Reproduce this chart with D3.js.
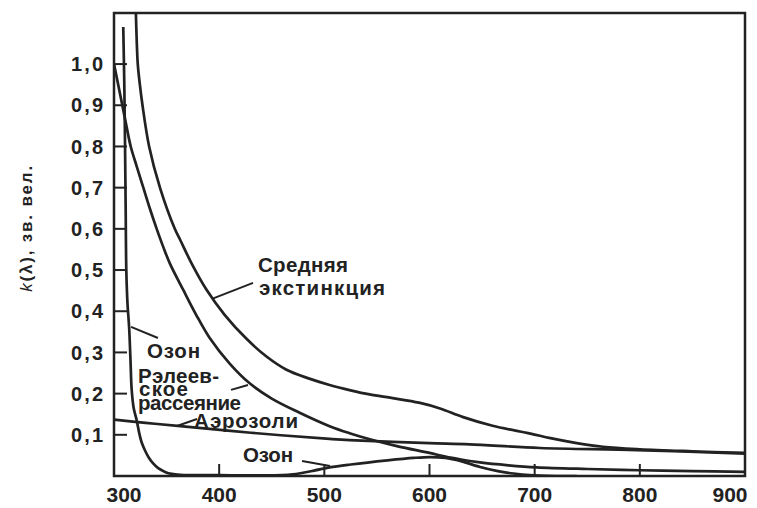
<!DOCTYPE html>
<html>
<head>
<meta charset="utf-8">
<script src="https://cdn.jsdelivr.net/npm/d3@7"></script>
<style>
  html, body { margin: 0; padding: 0; background: #fff; }
  svg { display: block; }
</style>
</head>
<body>
<svg id="chart"></svg>
<script>
// k(λ) — атмосферная экстинкция по составляющим, 300–900 нм.
// Кривые: [длина волны, нм; k, зв. вел.]

const rayleigh = [
  [300, 1.00], [304, 0.95], [307.9, 0.90], [311.8, 0.85], [315.9, 0.80], [321.8, 0.75],
  [327.9, 0.70], [334, 0.65], [340.6, 0.60], [347, 0.555], [353.3, 0.515], [366, 0.451],
  [378, 0.392], [391, 0.335], [410, 0.273], [429, 0.225], [450, 0.188], [477, 0.153],
  [505, 0.121], [524, 0.104], [545, 0.088], [570, 0.072], [600, 0.056], [615, 0.047],
  [630, 0.040], [648, 0.033], [675, 0.026], [702, 0.021], [750, 0.017], [800, 0.014],
  [850, 0.012], [900, 0.010]
];

const extinction = [
  [320.2, 1.18], [320.8, 1.124], [321.7, 1.05], [322.6, 1.00], [324.6, 0.95], [327.1, 0.90],
  [333.4, 0.80], [343.7, 0.70], [357.8, 0.60], [363, 0.573], [374, 0.515], [388, 0.452],
  [405, 0.392], [426, 0.333], [445, 0.29], [464, 0.258], [485, 0.237], [505, 0.221],
  [525, 0.208], [543, 0.198], [565, 0.189], [590, 0.178], [610, 0.164], [632, 0.143],
  [660, 0.122], [696, 0.103], [715, 0.092], [740, 0.080], [765, 0.071], [800, 0.065],
  [850, 0.060], [900, 0.056]
];

const aerosol = [
  [300, 0.137], [330, 0.129], [363, 0.121], [430, 0.105], [505, 0.090], [524, 0.087],
  [600, 0.080], [638, 0.077], [705, 0.068], [797, 0.063], [900, 0.054]
];

// озон: полоса Хартли–Хаггинса в УФ + полоса Шаппюи около 600 нм
const ozone = [
  [308.8, 1.09], [309.8, 0.95], [310.5, 0.80], [311.1, 0.65], [311.7, 0.50], [312.8, 0.42],
  [314.4, 0.36], [315.7, 0.28], [316.8, 0.21], [318.7, 0.165], [321.5, 0.136], [324, 0.104],
  [326.5, 0.08], [329.5, 0.062], [333, 0.045], [337, 0.031], [342, 0.019], [348.5, 0.010],
  [355, 0.005], [363, 0.003], [400, 0.002], [460, 0.002], [470, 0.004], [490, 0.013],
  [505, 0.021], [525, 0.028], [560, 0.038], [585, 0.044], [600, 0.046], [615, 0.044],
  [630, 0.036], [648, 0.022], [665, 0.012], [680, 0.006], [695, 0.002], [720, 0.0], [740, 0.0]
];

const xTicks = [300, 400, 500, 600, 700, 800, 900];
const yTicks = [0.1, 0.2, 0.3, 0.4, 0.5, 0.6, 0.7, 0.8, 0.9, 1.0];
const yMax = 1.124;

(function () {
  const W = 757, H = 508;
  const M = { top: 13, right: 12, bottom: 32, left: 114 };
  const INK = "#222";
  const FONT = "'Liberation Sans', Arial, sans-serif";

  const svg = d3.select("#chart").attr("width", W).attr("height", H);

  const x = d3.scaleLinear().domain([300, 900]).range([M.left, W - M.right]);
  const y = d3.scaleLinear().domain([0, yMax]).range([H - M.bottom, M.top]);

  svg.append("defs").append("clipPath").attr("id", "plot")
    .append("rect")
    .attr("x", x(300)).attr("y", y(yMax))
    .attr("width", x(900) - x(300)).attr("height", y(0) - y(yMax));

  // curves
  const line = d3.line()
    .x(d => x(d[0])).y(d => y(d[1]))
    .curve(d3.curveCatmullRom.alpha(0.5));

  const curves = svg.append("g").attr("clip-path", "url(#plot)");
  [rayleigh, extinction, aerosol, ozone].forEach(s => {
    curves.append("path")
      .attr("d", line(s))
      .attr("fill", "none")
      .attr("stroke", INK)
      .attr("stroke-width", 2.7)
      .attr("stroke-linejoin", "round");
  });

  // frame
  svg.append("rect")
    .attr("x", x(300)).attr("y", y(yMax))
    .attr("width", x(900) - x(300)).attr("height", y(0) - y(yMax))
    .attr("fill", "none").attr("stroke", INK).attr("stroke-width", 2.5);

  // inner ticks
  svg.append("g").selectAll("line").data(yTicks).enter().append("line")
    .attr("x1", x(300)).attr("x2", x(300) + 13)
    .attr("y1", d => y(d)).attr("y2", d => y(d))
    .attr("stroke", INK).attr("stroke-width", 2);

  svg.append("g").selectAll("line").data(xTicks.slice(1, -1)).enter().append("line")
    .attr("x1", d => x(d)).attr("x2", d => x(d))
    .attr("y1", y(0)).attr("y2", y(0) - 12)
    .attr("stroke", INK).attr("stroke-width", 2);

  // tick labels
  svg.append("g").selectAll("text").data(yTicks).enter().append("text")
    .attr("x", x(300) - 11).attr("y", d => y(d)).attr("dy", "0.36em")
    .attr("text-anchor", "end")
    .attr("font-family", FONT).attr("font-weight", 700).attr("font-size", 20)
    .attr("fill", INK)
    .attr("textLength", 32).attr("lengthAdjust", "spacing")
    .text(d => d.toFixed(1).replace(".", ","));

  svg.append("g").selectAll("text").data(xTicks).enter().append("text")
    .attr("x", d => x(d) + (d === 300 ? 10 : d === 900 ? -15 : 0))
    .attr("y", H - 6)
    .attr("text-anchor", "middle")
    .attr("font-family", FONT).attr("font-weight", 700).attr("font-size", 21)
    .attr("fill", INK)
    .text(d => d);

  // y axis title
  const yt = svg.append("text")
    .attr("transform", `translate(32, ${y(0.6)}) rotate(-90)`)
    .attr("text-anchor", "middle")
    .attr("font-family", FONT).attr("font-size", 17).attr("font-weight", 700)
    .attr("fill", INK)
    .attr("textLength", 126).attr("lengthAdjust", "spacing");
  yt.append("tspan").attr("font-style", "italic").attr("font-weight", 400).text("k");
  yt.append("tspan").text("(λ)");
  yt.append("tspan").text(", зв. вел.");

  // curve labels, anchored in data units
  const labels = [
    { t: "Средняя",    nm: 436.9, k: 0.495, w: 90 },
    { t: "экстинкция", nm: 437.9, k: 0.439, w: 126 },
    { t: "Озон",       nm: 331.4, k: 0.286, w: 53 },
    { t: "Рэлеев-",    nm: 322.8, k: 0.226, w: 81 },
    { t: "ское",       nm: 323.8, k: 0.193, w: 49 },
    { t: "рассеяние",  nm: 322.8, k: 0.161, w: 103 },
    { t: "Аэрозоли",   nm: 376.1, k: 0.1165, w: 104 },
    { t: "Озон",       nm: 422.7, k: 0.034, w: 50 }
  ];
  svg.append("g").selectAll("text").data(labels).enter().append("text")
    .attr("x", d => x(d.nm)).attr("y", d => y(d.k))
    .attr("font-family", FONT).attr("font-weight", 700).attr("font-size", 20.5)
    .attr("fill", INK)
    .attr("textLength", d => d.w).attr("lengthAdjust", "spacing")
    .text(d => d.t);

  // leader lines from labels to curves
  const leaders = [
    [[432.2, 0.469], [393.2, 0.430]],
    [[316.2, 0.362], [341.8, 0.335]],
    [[411.3, 0.209], [427.4, 0.221]],
    [[359.9, 0.1214], [378.9, 0.1384]],
    [[478.8, 0.0364], [505.4, 0.0243]]
  ];
  svg.append("g").selectAll("line").data(leaders).enter().append("line")
    .attr("x1", d => x(d[0][0])).attr("y1", d => y(d[0][1]))
    .attr("x2", d => x(d[1][0])).attr("y2", d => y(d[1][1]))
    .attr("stroke", INK).attr("stroke-width", 2);
})();
</script>
</body>
</html>
